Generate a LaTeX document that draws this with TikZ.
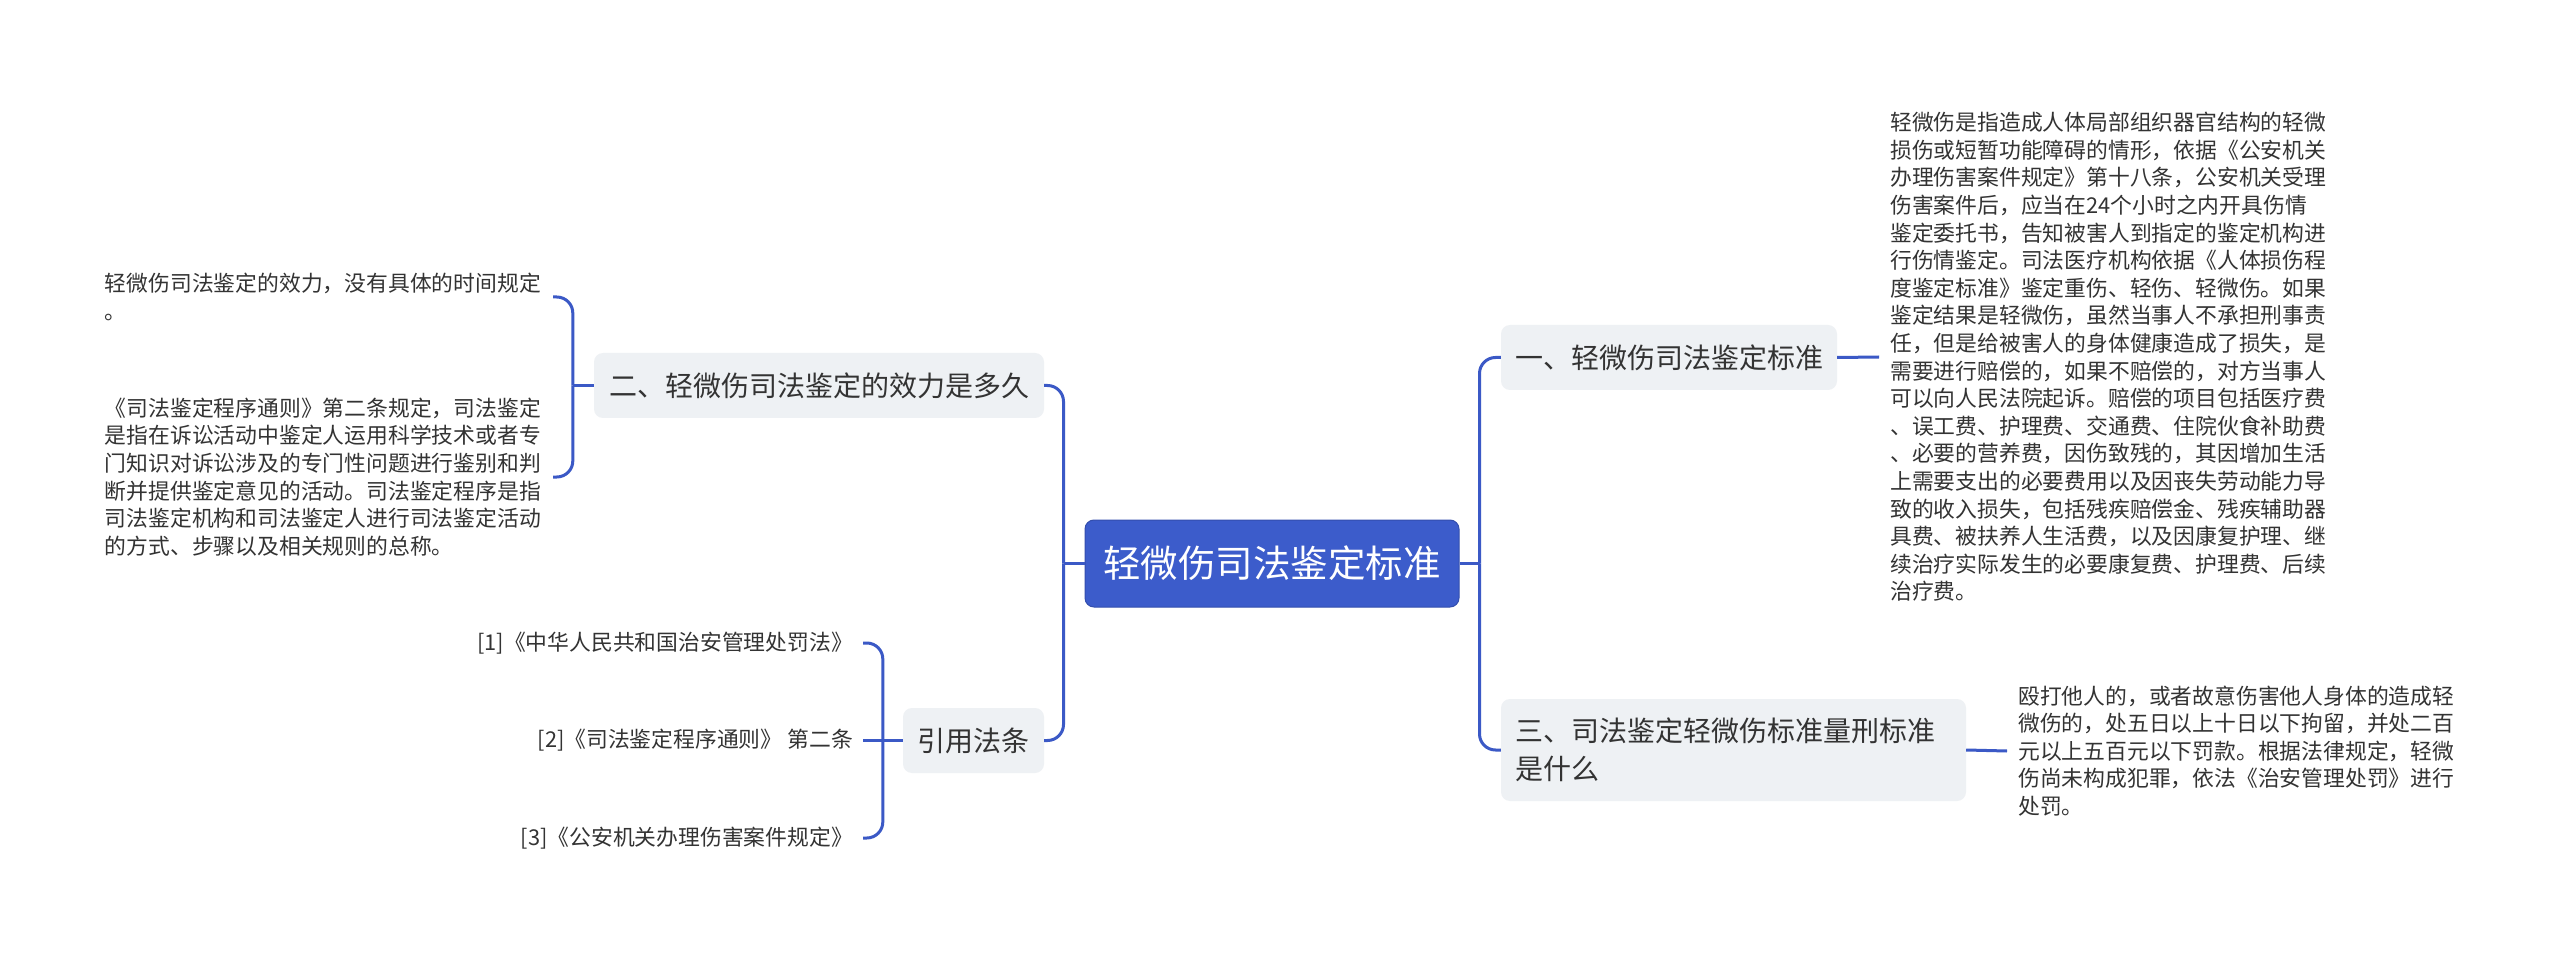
\documentclass[tikz,border=0pt]{standalone}
\usepackage{fontspec}
\setmainfont{Noto Sans CJK SC}
\usetikzlibrary{calc}
\definecolor{lineblue}{HTML}{3B59C6}
\definecolor{rootblue}{HTML}{3C5CCB}
\definecolor{boxgray}{HTML}{EEF1F4}
\definecolor{txt}{HTML}{333333}
\begin{document}
\begin{tikzpicture}[x=1pt,y=-1pt,
  conn/.style={draw=lineblue,line width=3pt,rounded corners=16pt},
  topic/.style={fill=boxgray,rounded corners=9pt,text=txt,font=\fontsize{28}{38}\selectfont,inner sep=0pt,align=center,minimum height=65pt},
  para/.style={text=txt,font=\fontsize{21.8}{27.6}\selectfont,inner xsep=11pt,inner ysep=0pt,align=left,text width=437pt},
  refitem/.style={text=txt,font=\fontsize{21.8}{27.6}\selectfont,inner xsep=10pt,inner ysep=0pt,anchor=east},
]
\useasboundingbox (0,0) rectangle (2560,957);
\fill[white] (0,0) rectangle (2560,957);

\node[fill=rootblue,draw=rootblue!85!black,line width=1pt,rounded corners=9pt,text=white,font=\fontsize{37.5}{40}\selectfont,inner sep=0pt,minimum width=374pt,minimum height=87pt] (root) at (1272,563.5) {轻微伤司法鉴定标准};

\node[topic,minimum width=336pt] (t1) at (1669,357.5) {一、轻微伤司法鉴定标准};
\node[topic,minimum height=102pt,text width=437pt,inner xsep=14pt,align=left] (t3) at (1733.5,750) {三、司法鉴定轻微伤标准量刑标准\\是什么};
\node[topic,minimum width=450pt] (t2) at (819,385.5) {二、轻微伤司法鉴定的效力是多久};
\node[topic,minimum width=141pt] (tr) at (973.5,740.5) {引用法条};

\node[para,anchor=west] (p1) at (1879,357) {轻微伤是指造成人体局部组织器官结构的轻微\\
损伤或短暂功能障碍的情形，依据《公安机关\\
办理伤害案件规定》第十八条，公安机关受理\\
伤害案件后，应当在24个小时之内开具伤情\\
鉴定委托书，告知被害人到指定的鉴定机构进\\
行伤情鉴定。司法医疗机构依据《人体损伤程\\
度鉴定标准》鉴定重伤、轻伤、轻微伤。如果\\
鉴定结果是轻微伤，虽然当事人不承担刑事责\\
任，但是给被害人的身体健康造成了损失，是\\
需要进行赔偿的，如果不赔偿的，对方当事人\\
可以向人民法院起诉。赔偿的项目包括医疗费\\
、误工费、护理费、交通费、住院伙食补助费\\
、必要的营养费，因伤致残的，其因增加生活\\
上需要支出的必要费用以及因丧失劳动能力导\\
致的收入损失，包括残疾赔偿金、残疾辅助器\\
具费、被扶养人生活费，以及因康复护理、继\\
续治疗实际发生的必要康复费、护理费、后续\\
治疗费。};

\node[para,anchor=west] (p3) at (2007,751) {殴打他人的，或者故意伤害他人身体的造成轻\\
微伤的，处五日以上十日以下拘留，并处二百\\
元以上五百元以下罚款。根据法律规定，轻微\\
伤尚未构成犯罪，依法《治安管理处罚》进行\\
处罚。};

\node[para,anchor=east] (l1) at (553,297) {轻微伤司法鉴定的效力，没有具体的时间规定\\。};
\node[para,anchor=east] (l2) at (553,477) {《司法鉴定程序通则》第二条规定，司法鉴定\\
是指在诉讼活动中鉴定人运用科学技术或者专\\
门知识对诉讼涉及的专门性问题进行鉴别和判\\
断并提供鉴定意见的活动。司法鉴定程序是指\\
司法鉴定机构和司法鉴定人进行司法鉴定活动\\
的方式、步骤以及相关规则的总称。};

\node[refitem] (r1) at (863,643) {[1]《中华人民共和国治安管理处罚法》};
\node[refitem] (r2) at (863,740.5) {[2]《司法鉴定程序通则》 第二条};
\node[refitem] (r3) at (863,838) {[3]《公安机关办理伤害案件规定》};

% right side
\coordinate (jR) at ($(root.east)+(20,0)$);
\draw[conn] (root.east) -- (jR);
\draw[conn] (jR) |- (t1.west);
\draw[conn] (jR) |- (t3.west);
\draw[conn] (t1.east) -- (p1.west);
\draw[conn] (t3.east) -- (p3.west);
% left side
\coordinate (jL) at ($(root.west)+(-21,0)$);
\draw[conn] (root.west) -- (jL);
\draw[conn] (jL) |- (t2.east);
\draw[conn] (jL) |- (tr.east);
\coordinate (j2) at ($(t2.west)+(-21,0)$);
\draw[conn] (t2.west) -- (j2);
\draw[conn] (j2) |- (l1.east);
\draw[conn] (j2) |- (l2.east);
\coordinate (jr) at ($(tr.west)+(-20,0)$);
\draw[conn] (tr.west) -- (r2.east);
\draw[conn] (jr) |- (r1.east);
\draw[conn] (jr) |- (r3.east);
\end{tikzpicture}
\end{document}
